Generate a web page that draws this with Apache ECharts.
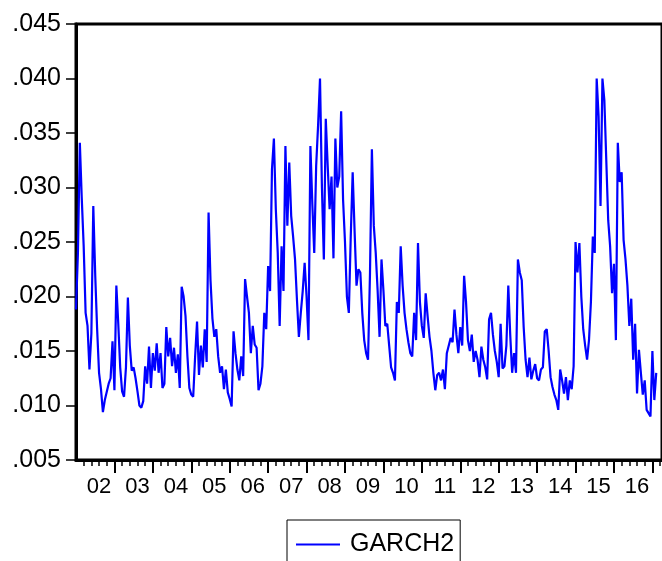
<!DOCTYPE html>
<html><head><meta charset="utf-8">
<script src="https://cdn.jsdelivr.net/npm/echarts@6/dist/echarts.min.js"></script>
<style>html,body{margin:0;padding:0;background:#fff}#c{width:662px;height:561px}</style>
</head><body><div id="c"></div>
<script>
// Year tick labels (one per year, 2002..2016)
const yearLabels = ['02','03','04','05','06','07','08','09','10','11','12','13','14','15','16'];
// Samples per year on the time axis (each sample ~ 2.6 weeks)
const samplesPerYear = 20;
// Minor tick subdivisions per year
const minorPerYear = 5;
// Total axis slots (axis runs a little past the last observation)
const axisSlots = 306;
// Y axis ticks
const yTicks = [0.005,0.010,0.015,0.020,0.025,0.030,0.035,0.040,0.045];
// GARCH2 conditional standard deviation
const garch2 = [
0.0188,0.0240,0.0341,0.0290,0.0246,0.0185,0.0173,0.0133,0.0166,0.0283,
0.0220,0.0170,0.0130,0.0115,0.0094,0.0105,0.0106,0.0120,0.0125,0.0159,
0.0114,0.0210,0.0175,0.0135,0.0113,0.0108,0.0135,0.0199,0.0155,0.0132,
0.0135,0.0125,0.0113,0.0100,0.0098,0.0104,0.0136,0.0120,0.0154,0.0116,
0.0148,0.0132,0.0157,0.0130,0.0148,0.0116,0.0120,0.0172,0.0145,0.0162,
0.0136,0.0153,0.0130,0.0147,0.0116,0.0209,0.0200,0.0182,0.0145,0.0116,
0.0110,0.0108,0.0145,0.0177,0.0128,0.0155,0.0135,0.0170,0.0140,0.0277,
0.0215,0.0180,0.0163,0.0170,0.0145,0.0130,0.0136,0.0115,0.0133,0.0112,
0.0106,0.0099,0.0168,0.0148,0.0133,0.0123,0.0145,0.0127,0.0216,0.0200,
0.0185,0.0148,0.0173,0.0156,0.0153,0.0114,0.0120,0.0136,0.0185,0.0170,
0.0228,0.0205,0.0317,0.0345,0.0280,0.0240,0.0173,0.0246,0.0205,0.0338,
0.0265,0.0323,0.0274,0.0255,0.0234,0.0197,0.0163,0.0185,0.0205,0.0231,
0.0200,0.0160,0.0338,0.0285,0.0240,0.0320,0.0357,0.0400,0.0300,0.0234,
0.0363,0.0320,0.0280,0.0310,0.0235,0.0345,0.0300,0.0310,0.0370,0.0289,
0.0250,0.0200,0.0185,0.0255,0.0314,0.0260,0.0210,0.0225,0.0222,0.0185,
0.0160,0.0148,0.0142,0.0220,0.0335,0.0265,0.0240,0.0205,0.0163,0.0234,
0.0206,0.0173,0.0175,0.0155,0.0135,0.0130,0.0123,0.0195,0.0185,0.0246,
0.0210,0.0185,0.0170,0.0158,0.0148,0.0145,0.0185,0.0160,0.0249,0.0195,
0.0173,0.0162,0.0203,0.0182,0.0163,0.0150,0.0130,0.0114,0.0128,0.0130,
0.0123,0.0133,0.0115,0.0148,0.0148,0.0162,0.0158,0.0188,0.0165,0.0148,
0.0172,0.0155,0.0219,0.0195,0.0160,0.0150,0.0165,0.0140,0.0150,0.0142,
0.0126,0.0154,0.0142,0.0135,0.0124,0.0179,0.0185,0.0165,0.0150,0.0140,
0.0126,0.0175,0.0134,0.0136,0.0155,0.0210,0.0165,0.0130,0.0148,0.0130,
0.0234,0.0222,0.0215,0.0172,0.0142,0.0126,0.0144,0.0124,0.0132,0.0138,
0.0125,0.0123,0.0133,0.0135,0.0168,0.0170,0.0150,0.0126,0.0117,0.0110,
0.0105,0.0096,0.0133,0.0123,0.0111,0.0126,0.0105,0.0123,0.0115,0.0136,
0.0250,0.0222,0.0249,0.0200,0.0170,0.0155,0.0142,0.0160,0.0195,0.0255,
0.0240,0.0400,0.0365,0.0283,0.0400,0.0380,0.0325,0.0270,0.0246,0.0203,
0.0230,0.0160,0.0341,0.0305,0.0314,0.0252,0.0234,0.0210,0.0173,0.0198,
0.0142,0.0175,0.0111,0.0151,0.0130,0.0110,0.0123,0.0096,0.0093,0.0090,
0.0150,0.0105,0.0130
];

const slots = [];
for (let i = 0; i < axisSlots; i++) slots.push(String(i));

const font = 'Liberation Sans, Arial, sans-serif';
const minorStep = samplesPerYear / minorPerYear;
const chart = echarts.init(document.getElementById('c'), null, {renderer: 'canvas'});
chart.setOption({
  animation: false,
  backgroundColor: '#fff',
  grid: {left: 76, right: -3.3, top: 24, bottom: 101, show: true, borderColor: '#000', borderWidth: 3, backgroundColor: 'transparent'},
  xAxis: [{
    type: 'category', data: slots, boundaryGap: false, position: 'bottom',
    axisLine: {show: true, lineStyle: {color: '#000', width: 3}},
    axisTick: {show: true, length: 6, lineStyle: {color: '#000', width: 1.5},
      interval: (idx) => idx > 0 && idx % minorStep === 0},
    axisLabel: {show: true, interval: (idx) => idx % samplesPerYear === 12,
      formatter: (v) => yearLabels[Math.floor(parseInt(v, 10) / samplesPerYear)] || '',
      color: '#000', fontSize: 22, fontFamily: font, margin: 16},
    splitLine: {show: false}
  }, {
    type: 'category', data: slots, boundaryGap: false, position: 'bottom',
    axisLine: {show: false},
    axisTick: {show: true, length: 13, lineStyle: {color: '#000', width: 2},
      interval: (idx) => idx > 0 && idx % samplesPerYear === 0},
    axisLabel: {show: false},
    splitLine: {show: false}
  }],
  yAxis: {
    type: 'value', min: yTicks[0], max: yTicks[yTicks.length - 1], interval: 0.005,
    axisLine: {show: true, lineStyle: {color: '#000', width: 3}},
    axisTick: {show: true, length: 10, lineStyle: {color: '#000', width: 1.5}},
    axisLabel: {color: '#000', fontSize: 25, fontFamily: font, margin: 15,
      padding: [0, 0, 12, 0],
      formatter: (v) => v.toFixed(3).replace(/^0/, '')},
    splitLine: {show: false}
  },
  legend: {
    show: true, left: 287, top: 520, orient: 'horizontal',
    data: [{name: 'GARCH2', icon: 'rect'}],
    borderColor: '#000', borderWidth: 1, borderRadius: 0,
    padding: [12, 6, 22, 9], itemWidth: 44, itemHeight: 2, itemGap: 10,
    textStyle: {color: '#000', fontSize: 25, fontFamily: font, padding: [0, 0, 0, 5]}
  },
  series: [{
    name: 'GARCH2', type: 'line', data: garch2, xAxisIndex: 0,
    symbol: 'none', showSymbol: false,
    lineStyle: {color: '#0000ff', width: 2.2}, itemStyle: {color: '#0000ff'}
  }]
});
</script>
</body></html>
